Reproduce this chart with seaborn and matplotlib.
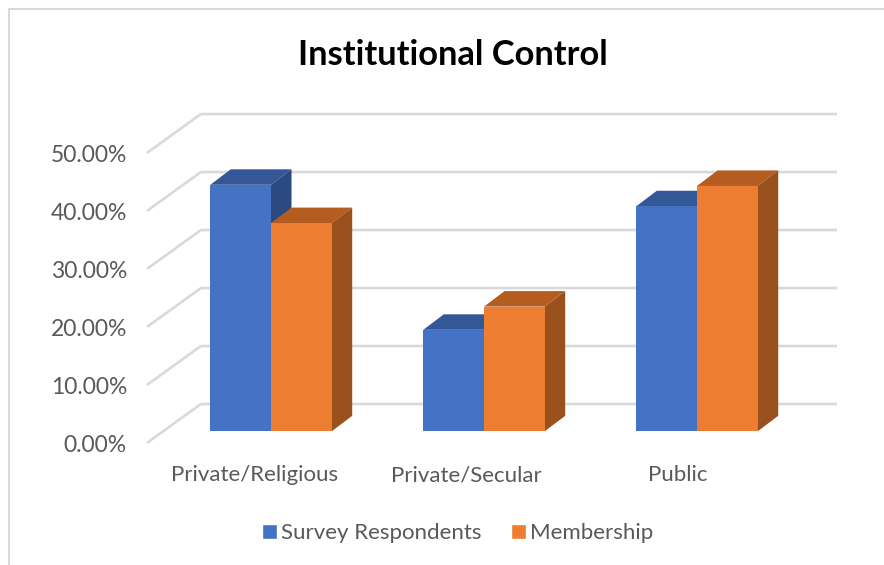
import pandas as pd
import numpy as np
import matplotlib.pyplot as plt
import seaborn as sns
from matplotlib.patches import Polygon

categories = ['Private/Religious', 'Private/Secular', 'Public']
survey = [42.5, 17.5, 38.8]
membership = [35.9, 21.5, 42.3]
ticks = [0, 10, 20, 30, 40, 50]
tick_labels = ['0.00%', '10.00%', '20.00%', '30.00%', '40.00%', '50.00%']

colors = {'Survey Respondents': '#4472C4', 'Membership': '#ED7D31'}
tops = {'Survey Respondents': '#335797', 'Membership': '#B55D21'}
sides = {'Survey Respondents': '#2B4A82', 'Membership': '#99501C'}

sns.set_theme(style='white')
plt.rcParams['font.family'] = ['Lato', 'DejaVu Sans']

df = pd.DataFrame({
    'category': categories * 2,
    'series': ['Survey Respondents'] * 3 + ['Membership'] * 3,
    'value': survey + membership,
})

W, H = 884, 565
fig = plt.figure(figsize=(W / 100, H / 100), dpi=100)
ax = fig.add_axes([0, 0, 1, 1])

sns.barplot(x='category', y='value', hue='series', data=df, palette=colors,
            width=0.57, gap=0, saturation=1, ax=ax)

# whole figure is the axes, so 213 px per category and 5.8 px per percent
x_scale = 213
y_scale = 5.8
x_zero = 271
ax.set_xlim(-x_zero / x_scale, (W - x_zero) / x_scale)
ax.set_ylim((431.3 - H) / y_scale, 431.3 / y_scale)
ax.axis('off')

# fake 3d walls
wall_front, wall_back, wall_right = -0.582, -0.329, 2.657
front_drop, back_rise = 2.0, 4.7
for t in ticks:
    ax.plot([wall_front, wall_back, wall_right], [t - front_drop, t + back_rise, t + back_rise],
            color='#d9d9d9', lw=1.9, zorder=1, solid_capstyle='butt')

# bar depth
dx = 20.5 / x_scale
dy = 15.5 / y_scale
for i, (name, bars) in enumerate(zip(colors, ax.containers)):
    for b in bars:
        b.set_zorder(3 + i * 2)
        b.set_edgecolor('none')
        x0, x1, h = b.get_x(), b.get_x() + b.get_width(), b.get_height()
        ax.add_patch(Polygon([(x0, h), (x0 + dx, h + dy), (x1 + dx, h + dy), (x1, h)],
                             facecolor=tops[name], edgecolor='none', zorder=2 + i * 2))
        ax.add_patch(Polygon([(x1, 0), (x1 + dx, dy), (x1 + dx, h + dy), (x1, h)],
                             facecolor=sides[name], edgecolor='none', zorder=2 + i * 2))

for t, lab in zip(ticks, tick_labels):
    ax.text((127 - x_zero) / x_scale, t - front_drop - 0.5, lab, ha='right', va='center',
            fontsize=16.5, color='#595959')
label_offset = [-0.075, -0.085, -0.09]
for i, c in enumerate(categories):
    ax.text(i + label_offset[i], -8.6, c, ha='center', va='baseline', fontsize=16, color='#595959')

ax.text(452.5 / W, 1 - 55 / H, 'Institutional Control', transform=ax.transAxes, ha='center',
        va='center', fontsize=24.8, fontweight='bold', color='black')

handles, labels = ax.get_legend_handles_labels()
ax.legend(handles, labels, ncol=2, loc='center', bbox_to_anchor=(457.5 / W, 1 - 533 / H),
          frameon=False, fontsize=16, labelcolor='#595959', handlelength=0.68, handleheight=0.68,
          handletextpad=0.2, columnspacing=1.3)

# chart border, only top and left are in the crop
ax.plot([9 / W, 9 / W, 1], [0, 1 - 9 / H, 1 - 9 / H], transform=ax.transAxes,
        color='#d9d9d9', lw=1.5, zorder=0)

fig.savefig('out.png', dpi=100)
